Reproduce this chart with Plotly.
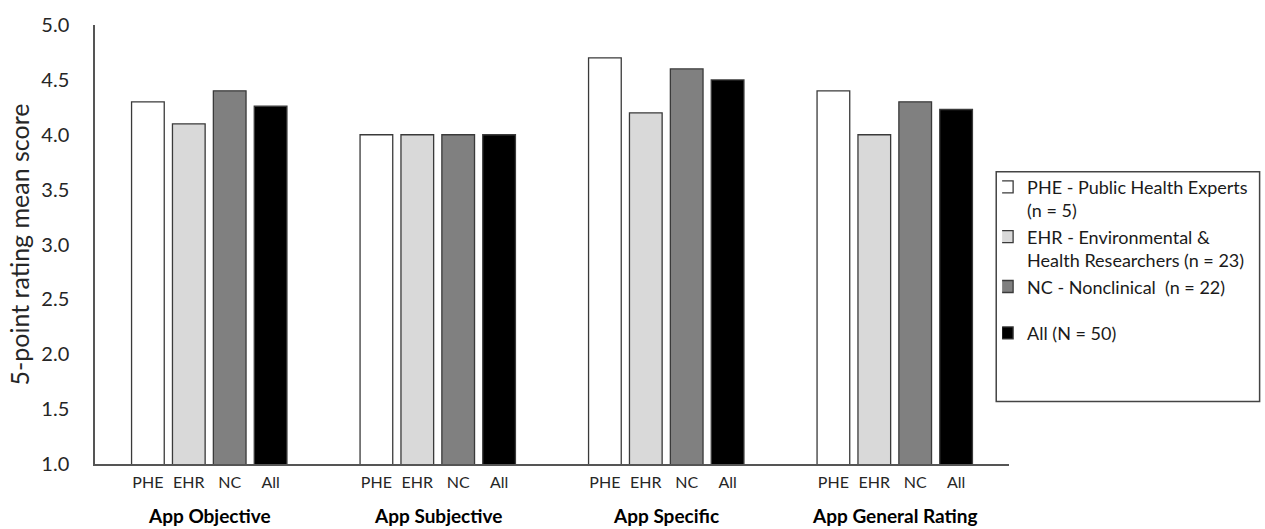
import numpy as np
import plotly.graph_objects as go

# ---- data ----
groups = ["App Objective", "App Subjective", "App Specific", "App General Rating"]
series_codes = ["PHE", "EHR", "NC", "All"]
series_names = [
    "PHE - Public Health Experts<br>(n = 5)",
    "EHR - Environmental &<br>Health Researchers (n = 23)",
    "NC - Nonclinical \u00a0(n = 22)",
    "All (N = 50)",
]
phe_values = [4.3, 4.0, 4.7, 4.4]
ehr_values = [4.1, 4.0, 4.2, 4.0]
nc_values = [4.4, 4.0, 4.6, 4.3]
all_values = [4.26, 4.0, 4.5, 4.23]
y_ticks = [1.0, 1.5, 2.0, 2.5, 3.0, 3.5, 4.0, 4.5, 5.0]

# ---- style ----
fill_colors = ["#ffffff", "#d9d9d9", "#808080", "#000000"]
FONT = "Lato"
W, H = 1265, 529
L, R, T, B = 95, 240, 21, 65
step = 0.179       # distance between bars of a group (category units)
bar_w = 0.143

series_values = [phe_values, ehr_values, nc_values, all_values]
g_idx = np.arange(len(groups))
pw, ph = W - L - R, H - T - B

fig = go.Figure()
tickvals, ticktext = [], []
for b, (code, name, vals, col) in enumerate(zip(series_codes, series_names, series_values, fill_colors)):
    xs = g_idx + (b - 1.5) * step
    tickvals += list(xs)
    ticktext += [code] * len(groups)
    fig.add_trace(go.Bar(
        x=xs, y=vals, width=bar_w, name=name,
        marker=dict(color=col, line=dict(color="#3a3a3a", width=1.3)),
        legendgroup="a" if b < 3 else "b",
        hoverinfo="y",
    ))

fig.update_layout(
    width=W, height=H,
    margin=dict(l=L, r=R, t=T, b=B),
    plot_bgcolor="white", paper_bgcolor="white",
    font=dict(family=FONT, color="#262626"),
    barmode="overlay",
    showlegend=True,
    legend=dict(
        x=(1018 - L) / pw, xanchor="left",
        y=(H - B - 166) / ph, yanchor="top",
        font=dict(family=FONT, size=18, color="#1a1a1a"),
        borderwidth=0, bgcolor="rgba(0,0,0,0)",
        indentation=-15, tracegroupgap=20,
        traceorder="grouped", valign="top",
    ),
    xaxis=dict(
        range=[-0.5, len(groups) - 0.5],
        tickvals=tickvals, ticktext=ticktext,
        tickfont=dict(family=FONT, size=16, color="#262626"),
        showline=True, linecolor="#555555", linewidth=1.5,
        showgrid=False, zeroline=False, ticks="",
        ticklabelstandoff=3,
    ),
    yaxis=dict(
        range=[1, 5], tickvals=y_ticks,
        ticktext=[f"{v:.1f}" for v in y_ticks],
        tickfont=dict(family=FONT, size=20, color="#262626"),
        showline=True, linecolor="#555555", linewidth=1.5,
        showgrid=False, zeroline=False, ticks="",
        ticklabelstandoff=20,
        title=dict(text="5-point rating mean score", font=dict(family=FONT, size=25, color="#262626"), standoff=5),
    ),
)

# legend box (extends beyond the right edge as in the reference)
fig.add_shape(type="rect", xref="paper", yref="paper",
              x0=(1012 - L) / pw, x1=(1280 - L) / pw,
              y0=(H - B - 401) / ph, y1=(H - B - 169) / ph,
              line=dict(color="#444444", width=1.5), fillcolor="rgba(0,0,0,0)", layer="below")

# group labels
for g, name in zip(g_idx, groups):
    fig.add_annotation(x=g, xref="x", y=(H - B - 516) / ph, yref="paper",
                       text=f"<b>{name}</b>", showarrow=False, yanchor="middle",
                       font=dict(family=FONT, size=19, color="#000000"))

fig.write_html(
    "out.html",
    config={"displayModeBar": False},
    post_script="document.body.style.margin='0';document.body.style.overflow='hidden';",
)
